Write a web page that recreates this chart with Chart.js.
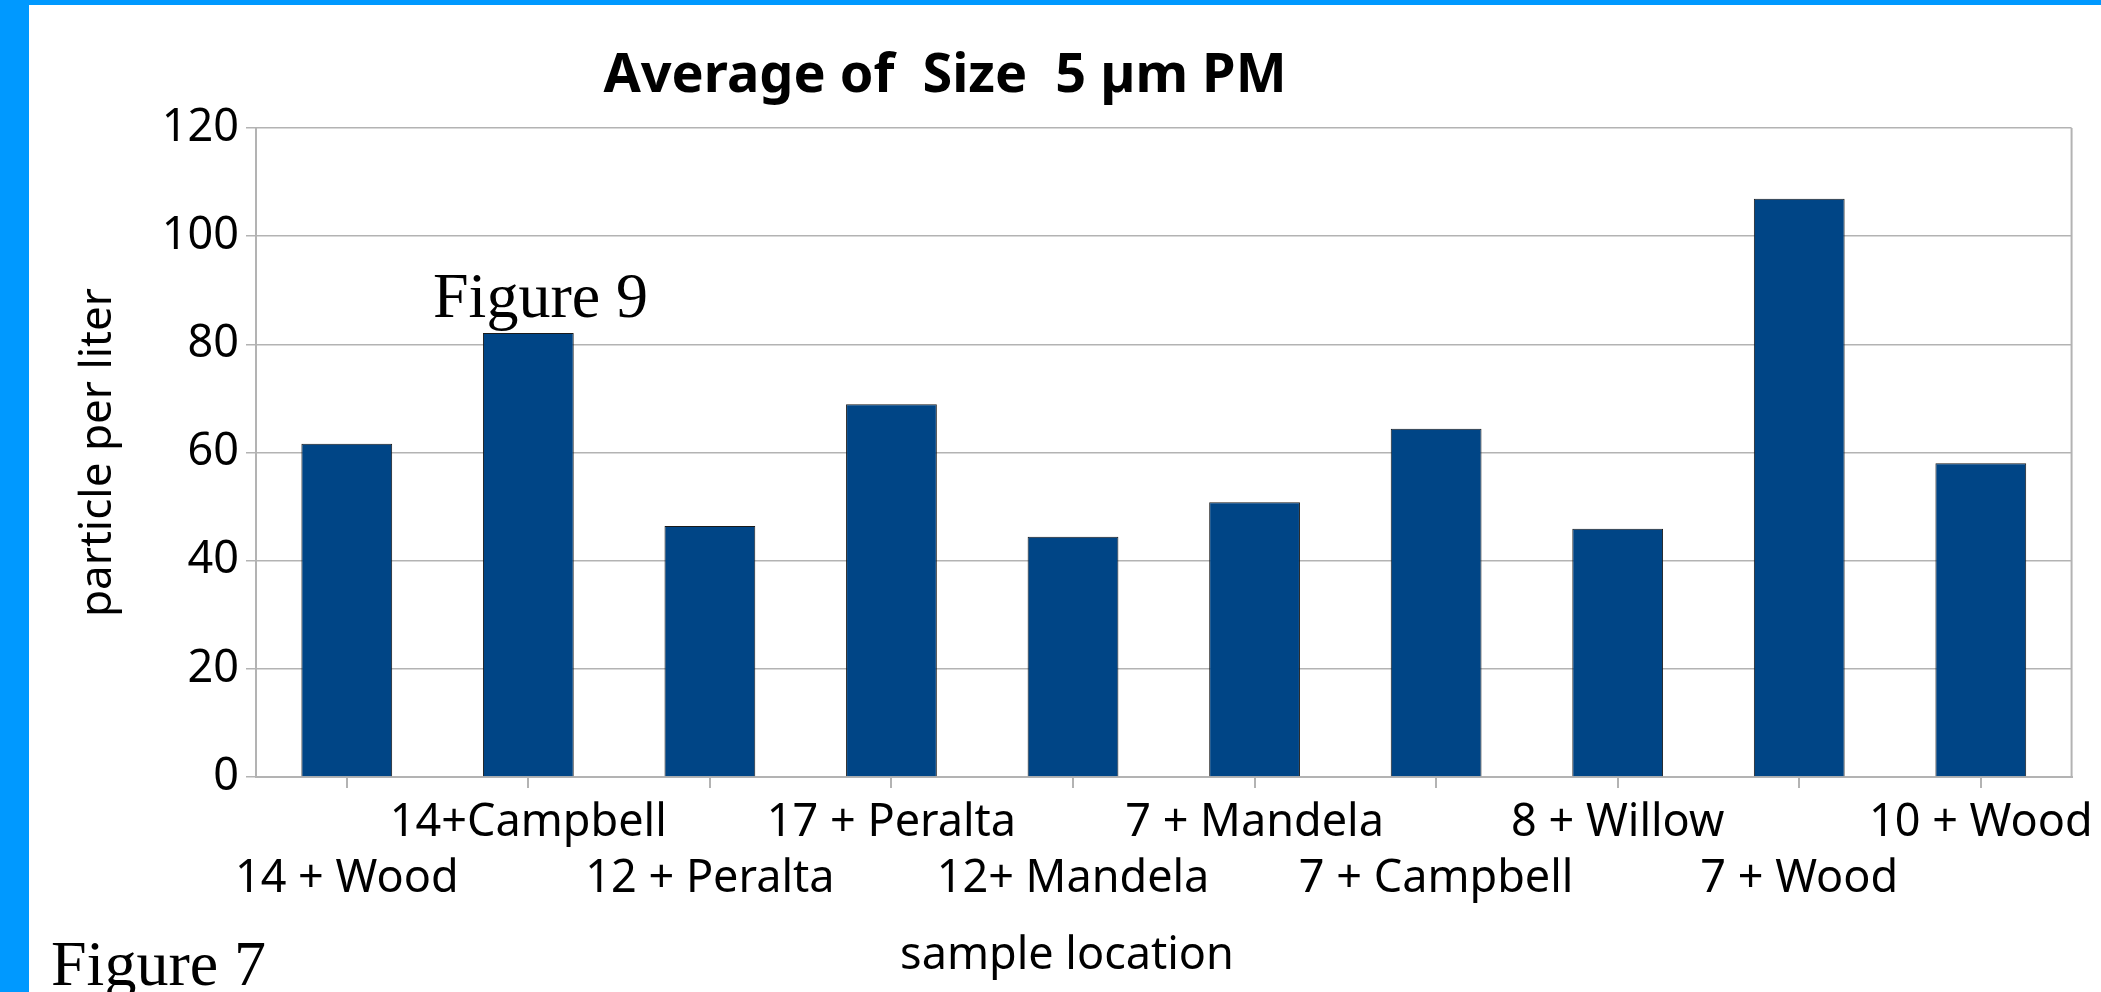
<!DOCTYPE html>
<html>
<head>
<meta charset="utf-8">
<script src="https://cdn.jsdelivr.net/npm/chart.js@4"></script>
<style>
  html, body { margin: 0; padding: 0; background: #fff; }
  body { width: 2101px; height: 992px; position: relative; overflow: hidden; }
  #chart { position: absolute; left: 0; top: 0; }
  .edge { position: absolute; background: #0099ff; }
  .txt { position: absolute; white-space: pre; line-height: 1; color: #000; }
  .sans { font-family: "Noto Sans", "Open Sans", sans-serif; }
  .serif { font-family: "Liberation Serif", "DejaVu Serif", serif; }
</style>
</head>
<body>
<canvas id="chart" width="2101" height="992"></canvas>
<div class="edge" style="left:0;top:0;width:29px;height:992px"></div>
<div class="edge" style="left:0;top:0;width:2101px;height:5px"></div>
<div class="txt sans" style="left:945px;top:44px;font-size:54px;font-weight:bold;transform:translateX(-50%)">Average of  Size  5 µm PM</div>
<div class="txt sans" style="left:1067px;top:929px;font-size:45px;transform:translateX(-50%)">sample location</div>
<div class="txt serif" style="left:433px;top:264px;font-size:64px">Figure 9</div>
<div class="txt serif" style="left:51px;top:932px;font-size:64px">Figure 7</div>
<script>
const locations = ["14 + Wood", "14+Campbell", "12 + Peralta", "17 + Peralta", "12+ Mandela",
  "7 + Mandela", "7 + Campbell", "8 + Willow", "7 + Wood", "10 + Wood"];
const avgSize5 = [61.6, 82.1, 46.4, 68.9, 44.4, 50.8, 64.4, 45.9, 106.9, 58.0];
const yMin = 0;
const yMax = 120;
const yStep = 20;

const gridGrey = "#b3b3b3";

// right edge of the plot frame
const frame = {
  id: "frame",
  beforeDatasetsDraw(chart) {
    const { ctx, chartArea } = chart;
    ctx.save();
    ctx.strokeStyle = gridGrey;
    ctx.lineWidth = 2;
    ctx.beginPath();
    ctx.moveTo(chartArea.right, chartArea.top);
    ctx.lineTo(chartArea.right, chartArea.bottom);
    ctx.stroke();
    ctx.restore();
  },
};

const ctx = document.getElementById("chart");
new Chart(ctx, {
  type: "bar",
  data: {
    labels: locations,
    datasets: [
      {
        label: "Average of Size 5 µm PM",
        data: avgSize5,
        backgroundColor: "#004586",
        borderColor: "#1a1a1a",
        borderWidth: 1,
        categoryPercentage: 1,
        barPercentage: 0.5,
      },
    ],
  },
  options: {
    responsive: false,
    devicePixelRatio: 1,
    animation: false,
    layout: { padding: { left: 0, top: 128, right: 27, bottom: 0 } },
    plugins: {
      legend: { display: false },
      title: { display: false },
      tooltip: { enabled: false },
    },
    scales: {
      x: {
        grid: {
          offset: false,
          drawOnChartArea: false,
          color: gridGrey,
          lineWidth: 2,
          tickLength: 11,
        },
        border: { color: gridGrey, width: 2 },
        ticks: {
          autoSkip: false,
          maxRotation: 0,
          minRotation: 0,
          padding: 7,
          color: "#000",
          font: { family: "'Noto Sans', 'Open Sans', sans-serif", size: 45, lineHeight: 1.244 },
          // alternate the labels over two rows
          callback: (v, i) => (i % 2 === 0 ? ["", locations[i]] : [locations[i], ""]),
        },
        afterFit: (s) => { s.height = 215; },
      },
      y: {
        min: yMin,
        max: yMax,
        ticks: {
          stepSize: yStep,
          padding: 7,
          color: "#000",
          font: { family: "'Noto Sans', 'Open Sans', sans-serif", size: 45 },
        },
        grid: { color: gridGrey, lineWidth: 1.5, tickLength: 10 },
        border: { color: gridGrey, width: 2 },
        title: {
          display: true,
          text: "particle per liter",
          color: "#000",
          padding: { top: 72, bottom: 0 },
          font: { family: "'Noto Sans', 'Open Sans', sans-serif", size: 44 },
        },
        afterFit: (s) => { s.width = 256; },
      },
    },
  },
  plugins: [frame],
});
</script>
</body>
</html>
